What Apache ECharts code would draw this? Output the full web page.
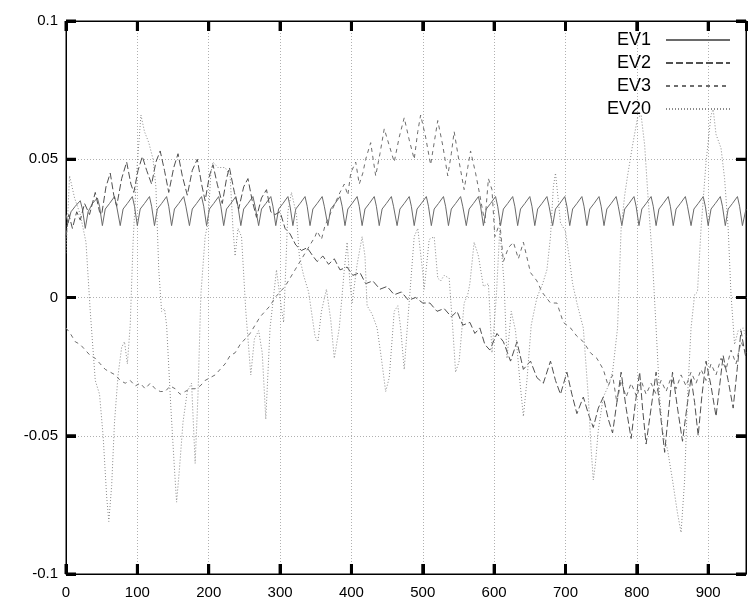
<!DOCTYPE html>
<html><head><meta charset="utf-8">
<script src="https://cdn.jsdelivr.net/npm/echarts@6/dist/echarts.min.js"></script>
<style>html,body{margin:0;padding:0;background:#fff}#c{width:748px;height:604px}</style>
</head><body><div id="c"></div>
<script>
const seriesNames = ['EV1', 'EV2', 'EV3', 'EV20'];
const xTickLabels = ['0','100','200','300','400','500','600','700','800','900'];
const yTickLabels = ['-0.1','-0.05','0','0.05','0.1'];
const xTickValues = [0,100,200,300,400,500,600,700,800,900];
const yTickValues = [-0.1,-0.05,0,0.05,0.1];
const xMin = 0, xMax = 953, yMin = -0.1, yMax = 0.1;

const ev1X = [0,3,7,13,20,23,27,31,37,44,47,51,55,61,68,71,76,80,86,93,96,100,104,110,117,120,124,128,134,141,144,148,152,158,165,168,173,177,183,190,193,197,201,207,214,217,221,225,231,238,241,245,249,255,262,265,270,274,280,287,290,294,298,304,311,314,318,322,328,335,338,342,346,352,359,362,367,371,377,384,387,391,395,401,408,411,415,419,425,432,435,439,443,449,456,459,464,468,474,481,484,488,492,498,505,508,512,516,522,529,532,536,540,546,553,556,561,565,571,578,581,585,589,595,602,605,609,613,619,626,629,633,637,643,650,653,657,661,667,674,677,682,686,692,699,702,706,710,716,723,726,730,734,740,747,750,754,758,764,771,774,779,783,789,796,799,803,807,813,820,823,827,831,837,844,847,851,855,861,868,871,876,880,886,893,896,900,904,910,917,920,924,928,934,941,944,948,953];
const ev1Y = [0.030,0.027,0.031,0.033,0.035,0.032,0.025,0.031,0.034,0.036,0.033,0.026,0.032,0.034,0.0365,0.033,0.026,0.032,0.034,0.0365,0.033,0.026,0.032,0.034,0.0365,0.033,0.026,0.032,0.034,0.0365,0.033,0.026,0.032,0.034,0.0365,0.033,0.026,0.032,0.034,0.0365,0.033,0.026,0.032,0.034,0.0365,0.033,0.026,0.032,0.034,0.0365,0.033,0.026,0.032,0.034,0.0365,0.033,0.026,0.032,0.034,0.0365,0.033,0.026,0.032,0.034,0.0365,0.033,0.026,0.032,0.034,0.0365,0.033,0.026,0.032,0.034,0.0365,0.033,0.026,0.032,0.034,0.0365,0.033,0.026,0.032,0.034,0.0365,0.033,0.026,0.032,0.034,0.0365,0.033,0.026,0.032,0.034,0.0365,0.033,0.026,0.032,0.034,0.0365,0.033,0.026,0.032,0.034,0.0365,0.033,0.026,0.032,0.034,0.0365,0.033,0.026,0.032,0.034,0.0365,0.033,0.026,0.032,0.034,0.0365,0.033,0.026,0.032,0.034,0.0365,0.033,0.026,0.032,0.034,0.0365,0.033,0.026,0.032,0.034,0.0365,0.033,0.026,0.032,0.034,0.0365,0.033,0.026,0.032,0.034,0.0365,0.033,0.026,0.032,0.034,0.0365,0.033,0.026,0.032,0.034,0.0365,0.033,0.026,0.032,0.034,0.0365,0.033,0.026,0.032,0.034,0.0365,0.033,0.026,0.032,0.034,0.0365,0.033,0.026,0.032,0.034,0.0365,0.033,0.026,0.032,0.034,0.0365,0.033,0.026,0.032,0.034,0.0365,0.033,0.026,0.032,0.034,0.0365,0.033,0.026,0.032,0.034,0.0365,0.033,0.026,0.032,0.034,0.0365,0.033,0.026,0.032,0.034,0.0365,0.033,0.026,0.031];

const ev2X = [0,4,9,15,20,26,33,41,47,50,56,62,67,71,78,85,91,95,101,107,113,120,126,132,138,144,151,157,163,170,177,184,190,195,201,206,212,219,225,229,236,242,249,255,261,267,274,281,287,293,300,307,314,322,330,338,346,352,360,368,376,384,394,402,412,420,430,440,450,460,470,480,490,500,510,520,530,540,548,556,566,573,580,587,594,604,613,623,632,641,651,660,669,679,686,693,702,709,716,725,732,739,746,753,760,766,772,778,785,792,798,804,808,813,820,827,833,839,845,850,857,864,870,876,881,886,891,897,904,911,916,921,928,935,941,946,950,953];
const ev2Y = [0.022,0.030,0.025,0.031,0.028,0.034,0.030,0.038,0.031,0.030,0.040,0.045,0.037,0.033,0.043,0.049,0.041,0.038,0.046,0.051,0.046,0.041,0.049,0.053,0.046,0.038,0.047,0.052,0.044,0.037,0.046,0.050,0.041,0.035,0.044,0.048,0.041,0.034,0.043,0.047,0.038,0.032,0.040,0.043,0.035,0.029,0.036,0.039,0.031,0.030,0.031,0.025,0.023,0.019,0.017,0.018,0.015,0.013,0.015,0.012,0.014,0.010,0.011,0.008,0.009,0.005,0.006,0.003,0.004,0.001,0.002,-0.001,0.000,-0.002,-0.002,-0.005,-0.004,-0.007,-0.005,-0.010,-0.009,-0.013,-0.011,-0.017,-0.019,-0.013,-0.016,-0.023,-0.016,-0.026,-0.023,-0.029,-0.031,-0.023,-0.030,-0.035,-0.027,-0.035,-0.042,-0.036,-0.042,-0.047,-0.040,-0.036,-0.044,-0.049,-0.038,-0.027,-0.040,-0.051,-0.038,-0.027,-0.040,-0.053,-0.040,-0.027,-0.042,-0.056,-0.040,-0.027,-0.040,-0.052,-0.040,-0.029,-0.038,-0.050,-0.036,-0.023,-0.032,-0.043,-0.032,-0.021,-0.030,-0.040,-0.025,-0.012,-0.018,-0.022];

const ev3X = [0,6,13,20,27,34,41,48,55,62,69,76,83,90,97,104,111,118,125,132,139,146,153,160,167,174,181,188,195,202,209,216,223,230,237,244,251,258,265,272,279,286,293,300,307,314,321,328,335,342,349,352,358,363,370,377,384,390,395,399,406,411,416,420,427,434,440,446,453,460,467,474,481,488,493,497,504,511,516,521,528,535,540,544,551,558,563,567,574,580,587,592,597,601,608,613,620,627,634,641,651,660,667,673,679,688,697,707,716,725,735,744,753,760,766,772,778,785,792,800,806,813,820,827,834,841,848,855,862,869,876,883,890,897,904,911,918,925,932,939,946,953];
const ev3Y = [-0.011,-0.013,-0.016,-0.017,-0.019,-0.021,-0.022,-0.024,-0.026,-0.027,-0.028,-0.030,-0.031,-0.030,-0.032,-0.031,-0.033,-0.031,-0.033,-0.034,-0.034,-0.032,-0.033,-0.035,-0.034,-0.033,-0.033,-0.032,-0.030,-0.029,-0.028,-0.026,-0.024,-0.021,-0.020,-0.017,-0.015,-0.013,-0.010,-0.007,-0.005,-0.003,0.000,0.002,0.004,0.007,0.010,0.013,0.016,0.019,0.022,0.024,0.021,0.026,0.030,0.034,0.038,0.041,0.037,0.045,0.049,0.041,0.045,0.050,0.056,0.044,0.052,0.061,0.055,0.049,0.058,0.065,0.057,0.050,0.060,0.066,0.058,0.048,0.056,0.064,0.055,0.044,0.052,0.060,0.049,0.039,0.047,0.053,0.045,0.037,0.027,0.043,0.039,0.022,0.027,0.013,0.018,0.020,0.014,0.020,0.009,0.006,0.002,0.000,-0.002,-0.002,-0.009,-0.011,-0.014,-0.016,-0.020,-0.022,-0.026,-0.032,-0.028,-0.038,-0.030,-0.036,-0.031,-0.036,-0.030,-0.035,-0.031,-0.035,-0.030,-0.034,-0.029,-0.033,-0.028,-0.032,-0.027,-0.031,-0.026,-0.030,-0.024,-0.028,-0.022,-0.026,-0.019,-0.024,-0.016,-0.020];

const ev20X = [0,5,12,20,28,34,41,47,52,57,60,64,68,73,78,82,86,90,94,99,105,110,116,122,126,130,134,138,141,147,152,155,159,164,170,176,181,185,189,195,199,203,206,213,223,230,234,237,241,246,252,259,264,270,275,280,286,295,302,305,311,316,323,327,333,340,349,353,358,365,371,376,383,390,394,398,401,408,415,419,422,429,436,442,448,453,460,465,469,474,480,488,493,500,502,509,516,521,525,530,537,542,546,551,558,563,566,572,578,585,592,597,603,608,614,618,624,630,636,641,646,652,660,668,674,679,683,686,690,693,700,705,710,716,725,732,736,739,742,746,753,760,766,773,778,783,787,794,801,806,811,815,822,827,832,836,843,850,857,862,867,871,876,881,885,890,897,904,907,911,918,923,928,932,937,942,949,953];
const ev20Y = [0.016,0.044,0.036,0.030,0.020,-0.005,-0.030,-0.035,-0.050,-0.072,-0.081,-0.068,-0.045,-0.028,-0.018,-0.016,-0.024,-0.010,0.020,0.045,0.066,0.060,0.056,0.050,0.040,0.010,-0.005,-0.004,-0.010,-0.040,-0.062,-0.074,-0.062,-0.045,-0.034,-0.031,-0.060,-0.035,0.001,0.022,0.027,0.045,0.049,0.047,0.047,0.044,0.025,0.015,0.025,0.022,-0.005,-0.028,-0.015,-0.012,-0.020,-0.044,-0.011,0.010,-0.004,-0.009,0.031,0.038,0.030,0.015,0.008,0.002,-0.014,-0.016,-0.005,0.003,-0.008,-0.022,-0.011,0.010,0.020,0.005,-0.002,0.012,0.022,0.015,-0.003,-0.006,-0.011,-0.022,-0.034,-0.029,-0.005,-0.003,-0.011,-0.026,-0.005,0.022,0.025,0.009,0.003,0.021,0.022,0.007,0.006,0.008,0.007,-0.011,-0.027,-0.023,-0.002,0.001,0.005,0.020,0.015,0.004,0.005,-0.020,0.000,0.025,0.005,-0.022,-0.005,-0.012,-0.030,-0.043,-0.030,-0.010,0.000,0.005,0.010,0.022,0.040,0.045,0.035,0.027,0.024,0.015,0.005,-0.002,-0.011,-0.036,-0.055,-0.066,-0.060,-0.048,-0.036,-0.032,-0.027,-0.011,0.025,0.037,0.044,0.055,0.065,0.066,0.055,0.039,0.013,-0.011,-0.036,-0.048,-0.055,-0.066,-0.078,-0.085,-0.066,-0.036,-0.011,0.001,0.002,0.025,0.049,0.066,0.068,0.059,0.054,0.043,0.025,0.001,-0.017,-0.012,-0.011,-0.014];

function pairs(xs, ys) { return xs.map((x, i) => [x, ys[i]]); }

const FONT = 'Liberation Sans, Arial, Helvetica, sans-serif';
const chart = echarts.init(document.getElementById('c'), null, {renderer: 'canvas'});
const gridLine = {show: true, lineStyle: {color: '#b0b0b0', width: 1, type: [1, 2]}};
const styles = [
  {color: '#6a6a6a', type: 'solid'},
  {color: '#505050', type: [7, 3]},
  {color: '#6e6e6e', type: [4, 4]},
  {color: '#8a8a8a', type: [1, 2]}
];
const datas = [pairs(ev1X, ev1Y), pairs(ev2X, ev2Y), pairs(ev3X, ev3Y), pairs(ev20X, ev20Y)];
function axisLineStyle() { return {show: true, onZero: false, lineStyle: {color: '#000', width: 1}}; }
const TICK = 10, TICKW = 3, TICKC = '#000';
function tickSeries(data, size, offset) {
  return {type: 'scatter', xAxisIndex: 0, yAxisIndex: 0, silent: true, clip: false, z: 20,
    symbol: 'rect', symbolSize: size, symbolOffset: offset, data: data,
    itemStyle: {color: TICKC, opacity: 1}, emphasis: {disabled: true}, tooltip: {show: false}};
}

chart.setOption({
  animation: false,
  backgroundColor: '#fff',
  grid: {left: 66, right: 2, top: 21, bottom: 30, show: true, borderColor: '#000', borderWidth: 1, backgroundColor: 'transparent'},
  legend: {
    orient: 'vertical', right: 17, top: 31, align: 'right', padding: 0,
    itemWidth: 64, itemHeight: 12, itemGap: 5,
    itemStyle: {opacity: 0, color: 'transparent', borderWidth: 0},
    textStyle: {fontSize: 18, fontFamily: FONT, color: '#000', padding: [0, 10, 0, 0]},
    data: seriesNames
  },
  xAxis: [{
    type: 'value', min: xMin, max: xMax, interval: 100,
    axisLine: axisLineStyle(),
    axisTick: {show: true, inside: true, length: TICK, lineStyle: {color: TICKC, width: TICKW}},
    axisLabel: {show: true, color: '#000', fontSize: 15, fontFamily: FONT, margin: 11, showMaxLabel: false,
      formatter: v => { const i = xTickValues.indexOf(Math.round(v)); return i >= 0 ? xTickLabels[i] : ''; }},
    splitLine: gridLine
  }, {
    type: 'value', position: 'top', min: xMin, max: xMax, interval: 100,
    axisLine: axisLineStyle(),
    axisTick: {show: true, inside: true, length: TICK, lineStyle: {color: TICKC, width: TICKW}},
    axisLabel: {show: false}, splitLine: {show: false}
  }],
  yAxis: [{
    type: 'value', min: yMin, max: yMax, interval: 0.05,
    axisLine: axisLineStyle(),
    axisTick: {show: true, inside: true, length: TICK, lineStyle: {color: TICKC, width: TICKW}},
    axisLabel: {show: true, color: '#000', fontSize: 15, fontFamily: FONT, margin: 8,
      formatter: v => { const i = Math.round((v + 0.1) / 0.05); return yTickLabels[i]; }},
    splitLine: gridLine
  }, {
    type: 'value', position: 'right', min: yMin, max: yMax, interval: 0.05,
    axisLine: axisLineStyle(),
    axisTick: {show: true, inside: true, length: TICK, lineStyle: {color: TICKC, width: TICKW}},
    axisLabel: {show: false}, splitLine: {show: false}
  }],
  series: seriesNames.map((name, i) => ({
    name: name, type: 'line', data: datas[i], xAxisIndex: 0, yAxisIndex: 0,
    symbol: 'none', showSymbol: false, smooth: false,
    lineStyle: {color: styles[i].color, width: 1, type: styles[i].type},
    itemStyle: {color: styles[i].color},
    z: 2 + i
  })).concat([
    tickSeries(xTickValues.map(v => [v, yMin]), [TICKW, TICK], [0, -TICK / 2]),
    tickSeries(xTickValues.map(v => [v, yMax]), [TICKW, TICK], [0, TICK / 2]),
    tickSeries(yTickValues.map(v => [xMin, v]), [TICK, TICKW], [TICK / 2, 0]),
    tickSeries(yTickValues.map(v => [xMax, v]), [TICK, TICKW], [-TICK / 2, 0])
  ])
});
</script></body></html>
